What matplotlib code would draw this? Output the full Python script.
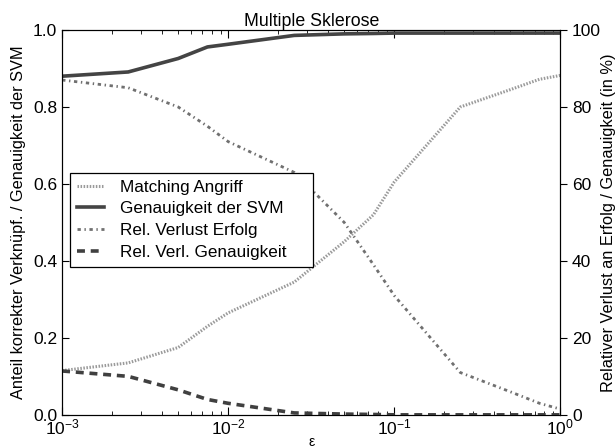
import numpy as np
import matplotlib
matplotlib.use("Agg")
from matplotlib import pyplot as plt

plt.rcParams['font.family'] = ['Liberation Sans', 'DejaVu Sans']
plt.rcParams['mathtext.fontset'] = 'custom'
plt.rcParams['mathtext.rm'] = 'Liberation Sans'
plt.rcParams['mathtext.it'] = 'Liberation Sans'
plt.rcParams['mathtext.default'] = 'regular'

# werte
eps = [1e-3, 2.5e-3, 5e-3, 7.5e-3, 1e-2, 2.5e-2, 5e-2, 7.5e-2, 0.1, 0.25, 0.5, 0.75, 1.0]
matching = [0.115, 0.135, 0.175, 0.23, 0.265, 0.345, 0.45, 0.52, 0.605, 0.80, 0.845, 0.872, 0.882]
svm_acc = [0.88, 0.891, 0.926, 0.956, 0.963, 0.986, 0.99, 0.991, 0.992, 0.992, 0.992, 0.992, 0.992]
loss_success = [87, 85, 80, 75, 71, 63, 50, 39, 31, 11, 6, 3, 1.5]
loss_acc = [11.4, 10, 6.5, 4, 3, 0.5, 0.2, 0.1, 0, 0, 0, 0, 0]
labels = ['Matching Angriff', 'Genauigkeit der SVM', 'Rel. Verlust Erfolg', 'Rel. Verl. Genauigkeit']

fig = plt.figure(figsize=(6.15, 4.48), dpi=100)
ax = fig.add_axes([0.101, 0.074, 0.81, 0.859])
ax2 = ax.twinx()

l1, = ax.plot(eps, matching, color='#9a9a9a', lw=2.2, linestyle=(0, (0.5, 0.5)))
l2, = ax.plot(eps, svm_acc, color='#444444', lw=2.6)
l3, = ax2.plot(eps, loss_success, color='#707070', lw=2.0, linestyle=(0, (1.2, 1.3, 0.5, 1.3)))
l4, = ax2.plot(eps, loss_acc, color='#404040', lw=2.6, linestyle=(0, (2.2, 1.6)))

ax.set_xscale('log')
ax.set_xlim(1e-3, 1)
ax.set_ylim(0, 1)
ax2.set_ylim(0, 100)
ax.set_yticks([0, 0.2, 0.4, 0.6, 0.8, 1.0])
ax.set_yticklabels(['0.0', '0.2', '0.4', '0.6', '0.8', '1.0'])
ax2.set_yticks([0, 20, 40, 60, 80, 100])

ax.tick_params(axis='x', which='both', direction='in', top=True, labelsize=12.5, pad=2)
ax.tick_params(axis='y', direction='in', labelsize=12.5, length=5)
ax2.tick_params(axis='y', direction='out', labelsize=12.5, length=5)
ax.tick_params(axis='x', which='major', length=6)
ax.tick_params(axis='x', which='minor', length=3)

ax.set_xlabel('ε', fontsize=10, labelpad=-2)
ax.set_ylabel('Anteil korrekter Verknüpf. / Genauigkeit der SVM', fontsize=11.8)
ax.yaxis.set_label_coords(-0.072, 0.5)
ax2.set_ylabel('Relativer Verlust an Erfolg / Genauigkeit (in %)', fontsize=11.8)
ax2.yaxis.set_label_coords(1.082, 0.5)
ax.set_title('Multiple Sklerose', fontsize=12.8, pad=2)

# etwas mehr platz rechts in der legende
leg = ax2.legend([l1, l2, l3, l4], [labels[0], labels[1], labels[2], labels[3] + '    '],
                 loc='upper left', bbox_to_anchor=(0.016, 0.629), borderaxespad=0, fontsize=12.3,
                 fancybox=False, framealpha=1, edgecolor='black', handlelength=1.6,
                 handletextpad=0.95, labelspacing=0.4, borderpad=0.4)
leg.get_frame().set_linewidth(0.9)

plt.savefig('out.png', dpi=100)
